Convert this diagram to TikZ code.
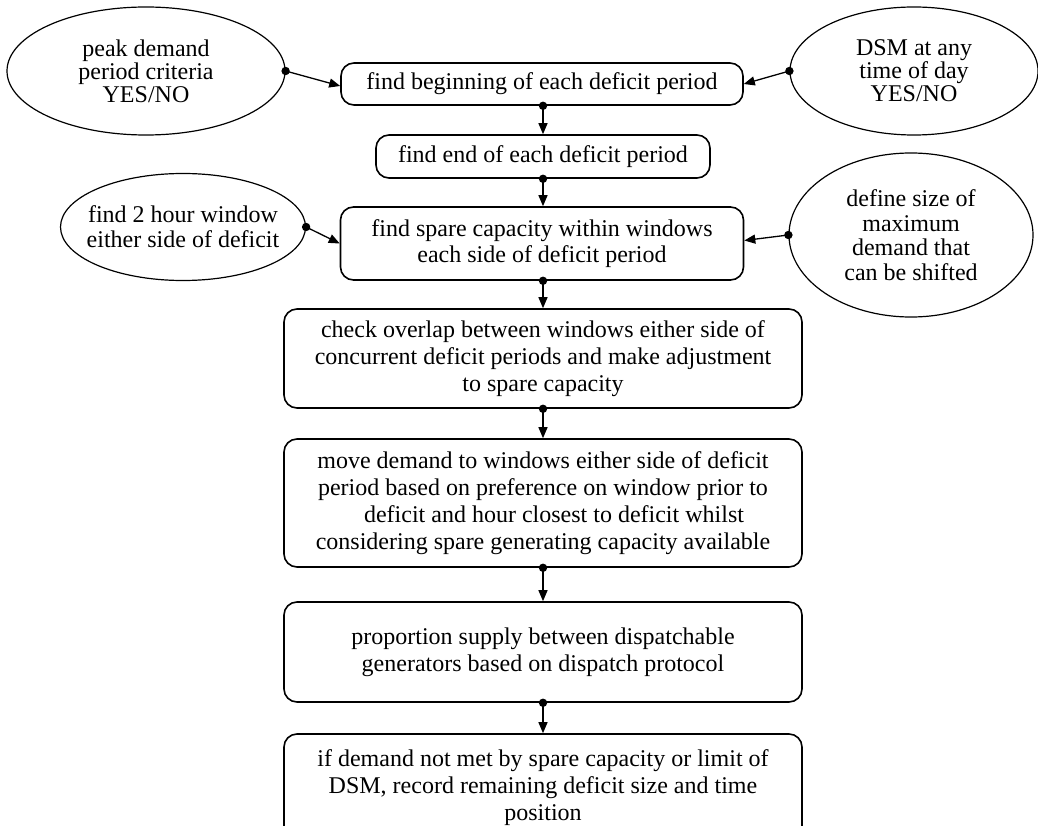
\documentclass[tikz,border=0pt]{standalone}
\usepackage{fontspec}
\setmainfont{Liberation Serif}
\usetikzlibrary{arrows.meta,shapes.geometric,calc}
\tikzset{
  stepbox/.style={draw, line width=1.6pt, rounded corners=13pt, inner sep=0pt, align=center},
  oval/.style={draw, ellipse, line width=1.2pt, inner xsep=-60pt, inner ysep=-40pt, align=center},
  arr/.style={line width=1.3pt, -{Triangle[length=11pt,width=9pt]}},
  dot/.style={fill=black}
}
\begin{document}
\begin{tikzpicture}[x=1pt,y=-1pt, every node/.style={font=\fontsize{24}{24}\selectfont}]
\useasboundingbox (0,0) rectangle (1038,826);
% boxes
\node[stepbox, minimum width=402pt, minimum height=42pt] (b1) at (542,84) {find beginning of each deficit period};
\node[stepbox, minimum width=334pt, minimum height=43pt] (b2) at (543,156.5) {find end of each deficit period};
\node[stepbox, minimum width=403pt, minimum height=73pt, font=\fontsize{24}{26}\selectfont] (b3) at (542,243.5) {find spare capacity within windows\\each side of deficit period};
\node[stepbox, minimum width=518pt, minimum height=99pt, font=\fontsize{24}{27}\selectfont] (b4) at (543,358.5) {check overlap between windows either side of\\concurrent deficit periods and make adjustment\\to spare capacity};
\node[stepbox, minimum width=518pt, minimum height=128pt, font=\fontsize{24}{27}\selectfont] (b5) at (543,503) {move demand to windows either side of deficit\\period based on preference on window prior to\\\hspace*{22pt}deficit and hour closest to deficit whilst\\considering spare generating capacity available};
\node[stepbox, minimum width=518pt, minimum height=100pt, font=\fontsize{24}{27}\selectfont] (b6) at (543,652) {proportion supply between dispatchable\\generators based on dispatch protocol};
\node[stepbox, minimum width=518pt, minimum height=108pt, font=\fontsize{24}{27}\selectfont] (b7) at (543,788) {if demand not met by spare capacity or limit of\\DSM, record remaining deficit size and time\\position};
% ellipses
\node[oval, minimum width=278pt, minimum height=128pt, font=\fontsize{24}{23}\selectfont] (e1) at (146,71) {peak demand\\period criteria\\YES/NO};
\node[oval, minimum width=248pt, minimum height=128pt, font=\fontsize{24}{23}\selectfont] (e2) at (914,71) {DSM at any\\time of day\\YES/NO};
\node[oval, minimum width=245pt, minimum height=107pt, font=\fontsize{24}{25}\selectfont] (e3) at (183,227) {find 2 hour window\\either side of deficit};
\node[oval, minimum width=244pt, minimum height=164pt, font=\fontsize{24}{24.5}\selectfont] (e4) at (911,235) {define size of\\maximum\\demand that\\can be shifted};
% vertical connectors
\foreach \a/\b in {b1/b2,b2/b3,b3/b4,b4/b5,b5/b6,b6/b7}{
  \fill[dot] (\a.south -| b4.south) circle (4.2pt);
  \draw[arr] (\a.south -| b4.south) -- (\b.north -| b4.south);
}
% side connectors
\fill[dot] (e1.east) circle (4.2pt);
\draw[arr] (e1.east) -- ($(b1.west)+(0,2)$);
\fill[dot] (e2.west) circle (4.2pt);
\draw[arr] (e2.west) -- (b1.east);
\fill[dot] (e3.east) circle (4.2pt);
\draw[arr] (e3.east) -- (b3.west);
\fill[dot] (e4.west) circle (4.2pt);
\draw[arr] (e4.west) -- ($(b3.east)+(0,-3)$);
\end{tikzpicture}
\end{document}
